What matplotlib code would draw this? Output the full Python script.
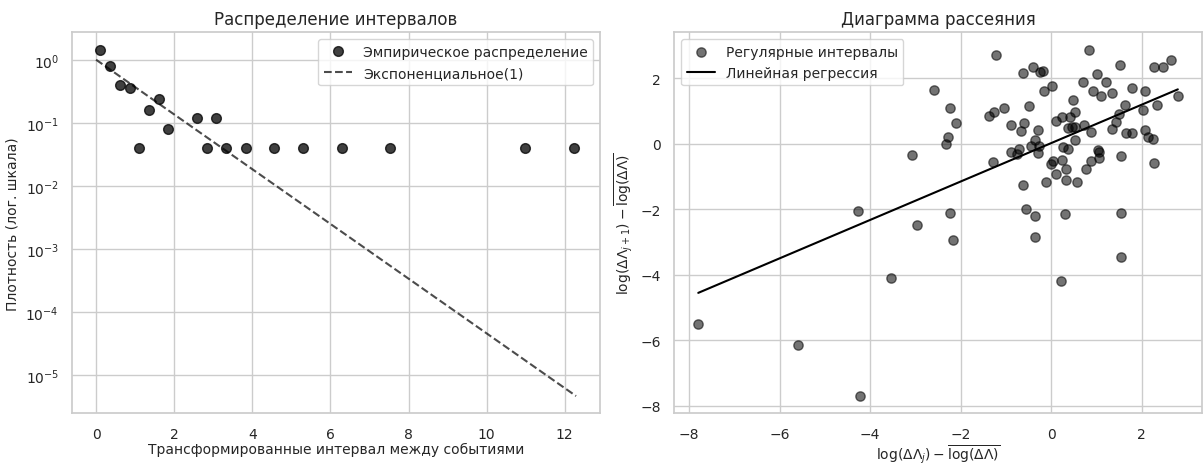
import numpy as np
import matplotlib
matplotlib.use("Agg")
import matplotlib.pyplot as plt
import seaborn as sns

sns.set_theme(style="whitegrid")
plt.rcParams['font.family'] = ['DejaVu Sans']
plt.rcParams['xtick.labelsize'] = 10
plt.rcParams['ytick.labelsize'] = 10
plt.rcParams['axes.labelsize'] = 10
plt.rcParams['legend.fontsize'] = 10

# histogram of transformed intervals (bin centres, density)
hist_x = [0.11, 0.36, 0.61, 0.86, 1.10, 1.35, 1.60, 1.85, 2.59, 2.83, 3.08,
          3.33, 3.83, 4.56, 5.30, 6.30, 7.53, 10.99, 12.23]
hist_density = [1.44, 0.80, 0.39, 0.36, 0.040, 0.161, 0.24, 0.080, 0.119, 0.040,
                0.119, 0.040, 0.040, 0.040, 0.040, 0.040, 0.040, 0.040, 0.040]
exp_x_max = 12.29

# scatter: log interval j vs j+1 (centred)
scat_x = [-7.80, -5.60, -4.22, -4.28, -3.55, -3.075, -2.96, -2.59, -2.245, -2.11,
          -2.275, -2.32, -2.245, -2.17, -1.223, -1.371, -1.267, -1.038, -1.282, -0.882,
          -0.593, -0.66, -0.482, -0.393, -0.63, -0.245, -0.17, -0.164, 0.025, -0.282,
          -0.356, -0.445, -0.26, -0.89, -0.70, -0.75, -0.30, -0.63, -0.11, 0.00,
          0.04, 0.10, -0.556, -0.364, -0.36, 0.829, 1.518, 2.267, 2.48, 2.644,
          1.014, 0.703, 1.222, 0.925, 1.096, 1.355, 1.79, 2.07, 2.80, 0.489,
          2.33, 1.63, 0.518, 1.496, 2.036, 0.244, 0.42, 0.103, 1.444, 0.37,
          0.46, 0.52, 0.718, 1.355, 0.873, 1.658, 1.79, 2.07, 2.13, 2.258,
          0.533, 0.273, 0.37, 1.036, 1.06, 1.54, 2.273, 0.236, 0.325, 0.33,
          0.578, 0.762, 0.889, 1.05, 0.31, 1.54, 1.547, 0.222]
scat_y = [-5.50, -6.14, -7.70, -2.06, -4.11, -0.335, -2.47, 1.63, 1.105, 0.63,
          0.22, -0.01, -2.12, -2.93, 2.71, 0.86, 0.96, 1.105, -0.557, 0.58,
          0.62, 0.375, 1.14, 2.33, 2.16, 2.18, 2.21, 1.61, 1.75, 0.43,
          0.12, -0.07, -0.07, -0.25, -0.17, -0.30, -0.27, -1.25, -1.17, -0.61,
          -0.52, -0.92, -1.99, -2.19, -2.84, 2.87, 2.41, 2.35, 2.35, 2.56,
          2.12, 1.90, 1.88, 1.61, 1.45, 1.55, 1.715, 1.60, 1.46, 1.34,
          1.19, 1.19, 0.98, 0.91, 1.035, 0.81, 0.81, 0.70, 0.66, 0.49,
          0.51, 0.51, 0.56, 0.45, 0.345, 0.325, 0.325, 0.43, 0.20, 0.13,
          0.12, -0.10, -0.15, -0.20, -0.24, -0.36, -0.59, -0.487, -0.78, -1.105,
          -1.157, -0.78, -0.527, -0.436, -2.14, -2.11, -3.45, -4.18]


def main():
    fig = plt.figure(figsize=(12.03, 4.64), dpi=100)
    ax1 = fig.add_axes([0.0599, 0.107, 0.4389, 0.821])
    ax2 = fig.add_axes([0.5605, 0.107, 0.4385, 0.821])

    ax1.plot(hist_x, hist_density, 'o', color='black', alpha=0.75, markersize=7,
             label='Эмпирическое распределение')
    xe = np.linspace(0, exp_x_max, 200)
    ax1.plot(xe, np.exp(-xe), '--', color='black', alpha=0.7, lw=1.5,
             label='Экспоненциальное(1)')
    ax1.set_yscale('log')
    ax1.set_title('Распределение интервалов', fontsize=12)
    ax1.set_xlabel('Трансформированные интервал между событиями', labelpad=1)
    ax1.set_ylabel('Плотность (лог. шкала)')
    ax1.legend(loc='upper right')

    sx = np.array(scat_x)
    sy = np.array(scat_y)
    ax2.scatter(sx, sy, color='black', alpha=0.55, s=45, label='Регулярные интервалы')
    k, b = np.polyfit(sx, sy, 1)
    xs = np.sort(sx)
    ax2.plot(xs, k * xs + b, color='black', lw=1.5, label='Линейная регрессия')
    ax2.set_title('Диаграмма рассеяния', fontsize=12)
    ax2.set_xlabel(r'$\log(\Delta\Lambda_j) - \overline{\log(\Delta\Lambda)}$', labelpad=1)
    ax2.set_ylabel(r'$\log(\Delta\Lambda_{j+1}) - \overline{\log(\Delta\Lambda)}$')
    ax2.legend(loc='upper left')

    fig.savefig('out.png', dpi=100)


if __name__ == '__main__':
    main()
